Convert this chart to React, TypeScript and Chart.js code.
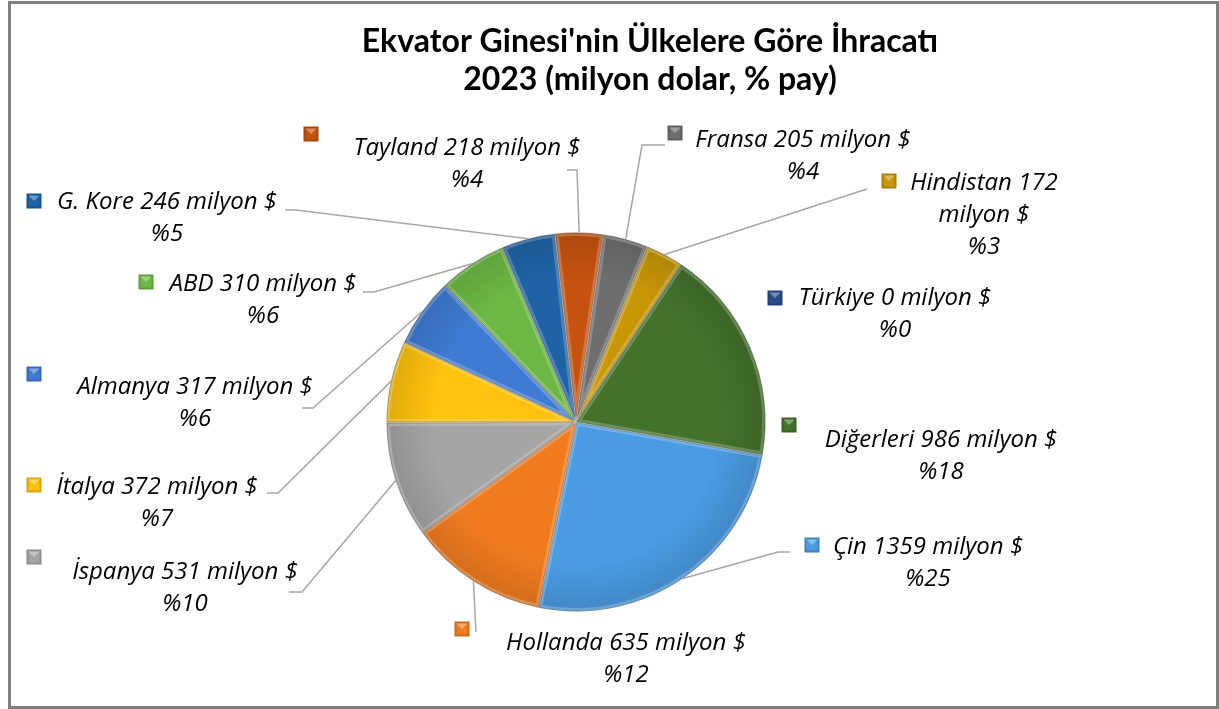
import React, { useEffect, useRef } from "react";
import { Chart, registerables } from "chart.js";

Chart.register(...registerables);

// ---- Data ----
const countries = ["Çin", "Hollanda", "İspanya", "İtalya", "Almanya", "ABD", "G. Kore", "Tayland", "Fransa", "Hindistan", "Türkiye", "Diğerleri"];
const values = [1359, 635, 531, 372, 317, 310, 246, 218, 205, 172, 0, 986];
const colors = ["#4a9be2", "#f07b1f", "#a5a5a5", "#ffc20e", "#3f7bd3", "#6cb844", "#1f63a6", "#c5520f", "#6e6e6e", "#c89708", "#2a4d8c", "#44722b"];
const titleLines = ["Ekvator Ginesi'nin Ülkelere Göre İhracatı", "2023 (milyon dolar, % pay)"];

// ---- Label layout (page pixels) ----
const labelX = [928, 626, 185, 157, 195, 263, 167, 467, 803, 984, 895, 941];
const labelY = [547, 643, 572, 487, 387, 284, 202, 148, 140, 183, 298, 440];
const labelWrap = [0, 0, 0, 0, 0, 0, 0, 0, 0, 190, 0, 0];
const markerX = [812, 462, 34, 34, 34, 146, 34, 311, 675, 889, 775, 789];
const markerY = [545, 629, 557, 485, 374, 282, 201, 134, 133, 181, 298, 425];
const leaderPts: number[][][] = [
  [[790, 552], [778, 552]],
  [[476, 632]],
  [[289, 592], [302, 592]],
  [[267, 493], [278, 493]],
  [[302, 408], [313, 408]],
  [[363, 292], [374, 292]],
  [[285, 210], [296, 210]],
  [[567, 170], [577, 170]],
  [[665, 145], [642, 145]],
  [[867, 189]],
  [],
  [],
];

function shade(hex: string, amt: number) {
  const n = parseInt(hex.slice(1), 16);
  let r = (n >> 16) & 255, g = (n >> 8) & 255, b = n & 255;
  const f = (c: number) => Math.max(0, Math.min(255, Math.round(amt >= 0 ? c + (255 - c) * amt : c * (1 + amt))));
  return `rgb(${f(r)},${f(g)},${f(b)})`;
}

const labelFont = "italic 24px 'Open Sans', Lato, sans-serif";
const titleFont = "bold 32px Lato, 'Open Sans', sans-serif";

const overlayPlugin = {
  id: "overlay",
  afterDatasetsDraw(chart: any) {
    const ctx = chart.ctx;
    const meta = chart.getDatasetMeta(0);
    meta.data.forEach((arc: any, i: number) => {
      if (!values[i]) return;
      const { x, y, startAngle, endAngle, outerRadius } = arc.getProps(["x", "y", "startAngle", "endAngle", "outerRadius"], true);
      ctx.save();
      ctx.beginPath();
      ctx.moveTo(x, y);
      ctx.arc(x, y, outerRadius, startAngle, endAngle);
      ctx.closePath();
      ctx.clip();
      const g = ctx.createRadialGradient(x, y, outerRadius * 0.75, x, y, outerRadius);
      g.addColorStop(0, "rgba(0,0,0,0)");
      g.addColorStop(1, "rgba(0,0,0,0.12)");
      ctx.fillStyle = g;
      ctx.fill();
      ctx.lineWidth = 7;
      ctx.strokeStyle = "rgba(255,255,255,0.22)";
      ctx.stroke();
      ctx.lineWidth = 2;
      ctx.strokeStyle = "rgba(0,0,0,0.25)";
      ctx.stroke();
      ctx.restore();
    });
  },
  afterDraw(chart: any) {
    const ctx = chart.ctx;
    const meta = chart.getDatasetMeta(0);
    const total = values.reduce((a, b) => a + b, 0);

    ctx.save();
    ctx.fillStyle = "#000";
    ctx.font = titleFont;
    ctx.textAlign = "center";
    ctx.textBaseline = "middle";
    ctx.fillText(titleLines[0], 650, 42);
    ctx.fillText(titleLines[1], 650, 80);
    ctx.restore();

    meta.data.forEach((arc: any, i: number) => {
      const { x, y, startAngle, endAngle, outerRadius } = arc.getProps(["x", "y", "startAngle", "endAngle", "outerRadius"], true);
      const mid = (startAngle + endAngle) / 2;
      const ex = x + Math.cos(mid) * outerRadius;
      const ey = y + Math.sin(mid) * outerRadius;

      const pts = leaderPts[i];
      if (pts.length) {
        ctx.save();
        ctx.strokeStyle = "#a6a6a6";
        ctx.lineWidth = 1.5;
        ctx.beginPath();
        ctx.moveTo(pts[0][0], pts[0][1]);
        for (let k = 1; k < pts.length; k++) ctx.lineTo(pts[k][0], pts[k][1]);
        ctx.lineTo(ex, ey);
        ctx.stroke();
        ctx.restore();
      }

      const mx = markerX[i], my = markerY[i], s = 15;
      ctx.save();
      ctx.fillStyle = shade(colors[i], -0.15);
      ctx.fillRect(mx - s / 2, my - s / 2, s, s);
      ctx.fillStyle = colors[i];
      ctx.fillRect(mx - s / 2 + 2, my - s / 2 + 2, s - 4, s - 4);
      ctx.fillStyle = shade(colors[i], 0.35);
      ctx.beginPath();
      ctx.moveTo(mx - s / 2 + 2, my - s / 2 + 2);
      ctx.lineTo(mx + s / 2 - 2, my - s / 2 + 2);
      ctx.lineTo(mx, my);
      ctx.closePath();
      ctx.fill();
      ctx.restore();

      const pct = Math.round((values[i] / total) * 100);
      const full = `${countries[i]} ${values[i]} milyon $`;
      ctx.save();
      ctx.font = labelFont;
      ctx.fillStyle = "#000";
      ctx.textAlign = "center";
      ctx.textBaseline = "middle";
      let lines: string[] = [];
      if (labelWrap[i] && ctx.measureText(full).width > labelWrap[i]) {
        const words = full.split(" ");
        let cur = "";
        words.forEach((w) => {
          const t = cur ? cur + " " + w : w;
          if (ctx.measureText(t).width > labelWrap[i] && cur) {
            lines.push(cur);
            cur = w;
          } else cur = t;
        });
        if (cur) lines.push(cur);
      } else lines = [full];
      lines.push(`%${pct}`);
      lines.forEach((ln, k) => ctx.fillText(ln, labelX[i], labelY[i] + k * 32));
      ctx.restore();
    });
  },
};

export default function App() {
  const ref = useRef<HTMLCanvasElement | null>(null);
  useEffect(() => {
    if (!ref.current) return;
    const W = 1219, H = 709, cx = 576, cy = 422, r = 190;
    const chart = new Chart(ref.current, {
      type: "pie",
      data: {
        labels: countries,
        datasets: [
          {
            data: values,
            backgroundColor: colors,
            borderColor: "rgba(255,255,255,0.55)",
            borderWidth: 1,
          },
        ],
      },
      options: {
        responsive: false,
        animation: false,
        rotation: 100,
        layout: { padding: { left: cx - r, right: W - cx - r, top: cy - r, bottom: H - cy - r } },
        plugins: { legend: { display: false }, tooltip: { enabled: false }, title: { display: false } },
      },
      plugins: [overlayPlugin],
    });
    return () => chart.destroy();
  }, []);
  return (
    <div>
      <canvas ref={ref} width={1219} height={709} style={{ position: "fixed", left: 0, top: 0, width: 1219, height: 709, background: "#fff" }} />
      <div
        style={{
          position: "fixed",
          left: 8,
          top: 1,
          width: 1211,
          height: 708,
          border: "3px solid #808080",
          boxSizing: "border-box",
          pointerEvents: "none",
        }}
      />
    </div>
  );
}
